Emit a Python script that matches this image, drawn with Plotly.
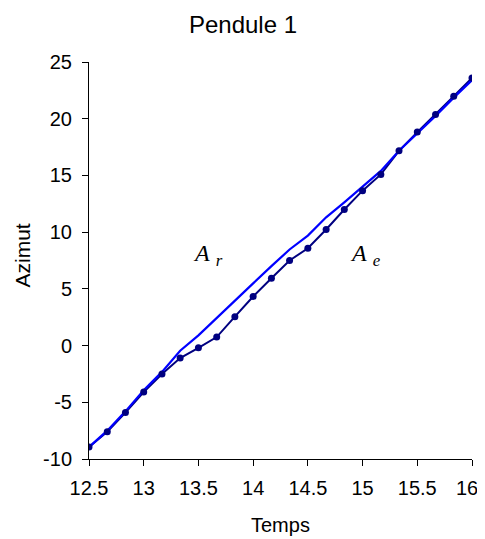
import plotly.graph_objects as go

temps = [12.5, 12.667, 12.833, 13.0, 13.167, 13.333, 13.5, 13.667, 13.833, 14.0, 14.167,
         14.333, 14.5, 14.667, 14.833, 15.0, 15.167, 15.333, 15.5, 15.667, 15.833, 16.0]
azimut_e = [-8.95, -7.6, -5.9, -4.1, -2.5, -1.1, -0.2, 0.75, 2.55, 4.33, 5.94,
            7.5, 8.58, 10.23, 12.0, 13.66, 15.09, 17.17, 18.82, 20.37, 21.98, 23.6]
azimut_r = [-8.95, -7.5, -5.8, -3.93, -2.32, -0.45, 0.9, 2.4, 3.96, 5.48, 7.0,
            8.47, 9.7, 11.31, 12.63, 14.0, 15.4, 17.17, 18.7, 20.25, 21.86, 23.4]

x_ticks = [12.5, 13, 13.5, 14, 14.5, 15, 15.5, 16]
y_ticks = [-10, -5, 0, 5, 10, 15, 20, 25]

# the page body has an 8px margin, so the figure is drawn 8px in from the top-left
W, H = 477, 531

fig = go.Figure()
fig.add_trace(go.Scatter(x=temps, y=azimut_e, mode="lines",
                         line=dict(color="#000080", width=2), showlegend=False))
fig.add_trace(go.Scatter(x=temps, y=azimut_r, mode="lines",
                         line=dict(color="#0000FF", width=2.2), showlegend=False))
fig.add_trace(go.Scatter(x=temps, y=azimut_e, mode="markers",
                         marker=dict(color="#000080", size=7), showlegend=False))

fig.add_annotation(x=13.59, y=8.0, text="<i>A</i> <sub><i>r</i></sub>", showarrow=False,
                   font=dict(family="Liberation Serif", size=24, color="black"))
fig.add_annotation(x=15.03, y=8.0, text="<i>A</i> <sub><i>e</i></sub>", showarrow=False,
                   font=dict(family="Liberation Serif", size=24, color="black"))

# last x tick label drawn as an annotation, nudged left so it stays inside the page
x_labels = [str(v) for v in x_ticks]
fig.add_annotation(x=x_ticks[-1], xref="x", yref="paper", y=0, yshift=-29, xshift=-5,
                   text=x_labels[-1], showarrow=False, xanchor="center", yanchor="middle",
                   font=dict(size=20))
x_labels[-1] = ""

# axis titles
fig.add_annotation(xref="paper", yref="paper", x=0, y=0.5, xshift=-67, yshift=5,
                   text="Azimut", showarrow=False, textangle=-90,
                   xanchor="center", yanchor="middle", font=dict(size=21))
fig.add_annotation(xref="paper", yref="paper", x=0.5, y=0, yshift=-66, text="Temps",
                   showarrow=False, xanchor="center", yanchor="middle",
                   font=dict(size=20))

fig.update_layout(
    width=W, height=H,
    margin=dict(l=81, r=13, t=54, b=80),
    paper_bgcolor="white", plot_bgcolor="white",
    font=dict(family="Liberation Sans, Arial", size=20, color="black"),
    title=dict(text="Pendule 1", x=(243 - 8) / W, xanchor="center", xref="container",
               y=1 - 17 / H, yref="container", yanchor="middle",
               font=dict(size=24)),
)
fig.update_xaxes(range=[12.5, 16], tickvals=x_ticks, ticktext=x_labels,
                 showgrid=False, zeroline=False, showline=True, linecolor="black", linewidth=1,
                 ticks="outside", ticklen=6, tickcolor="black", automargin=False,
                 ticklabelstandoff=5, tickfont=dict(size=20))
fig.update_yaxes(range=[-10, 25], tickvals=y_ticks, ticktext=[str(v) for v in y_ticks],
                 showgrid=False, zeroline=False, showline=True, linecolor="black", linewidth=1,
                 ticks="outside", ticklen=6, tickcolor="black", automargin=False,
                 ticklabelstandoff=6, tickfont=dict(size=20))

fig.write_html("out.html")
